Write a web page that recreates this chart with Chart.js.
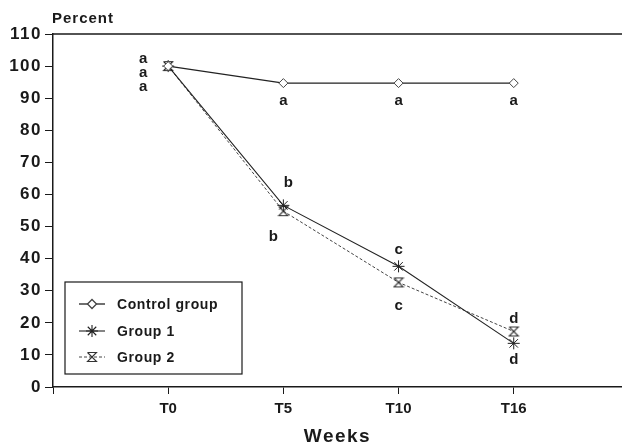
<!DOCTYPE html>
<html>
<head>
<meta charset="utf-8">
<script src="https://cdn.jsdelivr.net/npm/chart.js@4.4.1/dist/chart.umd.min.js"></script>
<style>
  html, body { margin: 0; padding: 0; background: #fff; }
  #wrap { width: 622px; height: 445px; position: relative; }
</style>
</head>
<body>
<div id="wrap"><canvas id="chart" width="622" height="445"></canvas></div>
<script>
// data
const weeks = ['T0', 'T5', 'T10', 'T16'];
const controlGroup = [100, 94.7, 94.7, 94.7];
const group1 = [100, 56.6, 37.6, 13.6];
const group2 = [100, 54.8, 32.6, 17.3];
const controlLetters = ['a', 'a', 'a', 'a'];
const group1Letters = ['a', 'b', 'c', 'd'];
const group2Letters = ['a', 'b', 'c', 'd'];
const seriesNames = ['Control group', 'Group 1', 'Group 2'];

const FONT = '"Liberation Sans", Arial, sans-serif';
const INK = '#1a1a1a';

// hourglass marker for group 2
function hourglass() {
  const c = document.createElement('canvas');
  c.width = 12; c.height = 12;
  const g = c.getContext('2d');
  g.strokeStyle = '#333';
  g.lineWidth = 1.1;
  g.beginPath();
  g.moveTo(1.5, 1.5); g.lineTo(10.5, 1.5);
  g.lineTo(1.5, 10.5); g.lineTo(10.5, 10.5);
  g.lineTo(1.5, 1.5);
  g.stroke();
  return c;
}
const hgMarker = hourglass();

const toPoints = (arr) => arr.map((v, i) => ({ x: i + 1, y: v }));

// letter offsets (px) relative to the point for each series
const letterOffsets = [
  [[-25, -7], [0, 18], [0, 18], [0, 18]],
  [[-25, 7], [5, -23], [0, -16], [0, 17]],
  [[-25, 21], [-10, 26], [0, 23], [0, -13]]
];

const decorPlugin = {
  id: 'decor',
  // wider tracking for the y labels and the axis title (drawn before datasets)
  beforeDraw(chart) {
    chart.ctx.letterSpacing = '1.5px';
  },
  beforeDatasetsDraw(chart) {
    chart.ctx.letterSpacing = '0px';
  },
  afterDraw(chart) {
    const ctx = chart.ctx;
    const a = chart.chartArea;
    const xs = chart.scales.x, ys = chart.scales.y;
    ctx.save();
    // top frame line
    ctx.strokeStyle = INK;
    ctx.lineWidth = 1.5;
    ctx.beginPath();
    ctx.moveTo(a.left, a.top);
    ctx.lineTo(chart.width, a.top);
    ctx.stroke();

    // axis caption
    ctx.fillStyle = INK;
    ctx.font = 'bold 15px ' + FONT;
    ctx.textAlign = 'left';
    ctx.textBaseline = 'middle';
    ctx.letterSpacing = '1px';
    ctx.fillText('Percent', a.left - 1, 19);
    ctx.letterSpacing = '0px';

    // significance letters
    ctx.font = 'bold 15px ' + FONT;
    ctx.textAlign = 'center';
    const letterSets = [controlLetters, group1Letters, group2Letters];
    const valueSets = [controlGroup, group1, group2];
    letterSets.forEach((letters, s) => {
      letters.forEach((t, i) => {
        const px = xs.getPixelForValue(i + 1) + letterOffsets[s][i][0];
        const py = ys.getPixelForValue(valueSets[s][i]) + letterOffsets[s][i][1];
        ctx.fillText(t, px, py);
      });
    });

    // legend box
    const bx = 65, by = 282, bw = 177, bh = 92;
    ctx.lineWidth = 1.2;
    ctx.strokeRect(bx, by, bw, bh);
    const rowY = [304, 331, 357];
    ctx.font = 'bold 14px ' + FONT;
    ctx.textAlign = 'left';
    chart.data.datasets.forEach((ds, i) => {
      const y = rowY[i];
      ctx.strokeStyle = ds.borderColor;
      ctx.lineWidth = ds.borderWidth;
      ctx.setLineDash(ds.borderDash || []);
      ctx.beginPath();
      ctx.moveTo(79, y);
      ctx.lineTo(105, y);
      ctx.stroke();
      ctx.setLineDash([]);
      ctx.fillStyle = '#fff';
      ctx.strokeStyle = ds.pointBorderColor || '#333';
      Chart.helpers.drawPoint(ctx, {
        pointStyle: ds.pointStyle,
        radius: ds.pointRadius,
        borderWidth: ds.pointBorderWidth || 1
      }, 92, y);
      ctx.fillStyle = INK;
      ctx.letterSpacing = '0.6px';
      ctx.fillText(seriesNames[i], 117, y + 1);
      ctx.letterSpacing = '0px';
    });
    ctx.restore();
  }
};

new Chart(document.getElementById('chart'), {
  type: 'line',
  data: {
    datasets: [
      {
        label: seriesNames[0],
        data: toPoints(controlGroup),
        borderColor: '#222',
        borderWidth: 1.3,
        pointStyle: 'rectRot',
        pointRadius: 4.5,
        pointBackgroundColor: '#fff',
        pointBorderColor: '#444',
        pointBorderWidth: 1
      },
      {
        label: seriesNames[1],
        data: toPoints(group1),
        borderColor: '#222',
        borderWidth: 1.1,
        pointStyle: 'star',
        pointRadius: 6,
        pointBorderColor: '#222',
        pointBorderWidth: 1
      },
      {
        label: seriesNames[2],
        data: toPoints(group2),
        borderColor: '#444',
        borderWidth: 1,
        borderDash: [3, 2],
        pointStyle: hgMarker,
        pointRadius: 6
      }
    ]
  },
  options: {
    responsive: false,
    animation: false,
    devicePixelRatio: 1,
    layout: { autoPadding: false, padding: { top: 34, right: 0, left: 0, bottom: 0 } },
    plugins: {
      legend: { display: false },
      tooltip: { enabled: false }
    },
    scales: {
      x: {
        type: 'linear',
        bounds: 'data',
        min: 0,
        max: 4.94,
        afterBuildTicks: (scale) => { scale.ticks = [0, 1, 2, 3, 4].map(v => ({ value: v })); },
        afterFit: (scale) => {
          scale.height = 58;
          scale.paddingRight = 0;
          scale.paddingLeft = 0;
        },
        grid: { drawOnChartArea: false, drawTicks: true, tickLength: 7, color: INK, lineWidth: 1 },
        border: { display: true, color: INK, width: 1.5 },
        ticks: {
          z: 1,
          padding: 6,
          color: INK,
          font: { family: FONT, size: 15, weight: 'bold' },
          callback: (v) => (v >= 1 && v <= weeks.length ? weeks[v - 1] : '')
        },
        title: {
          display: true,
          text: 'Weeks',
          color: INK,
          font: { family: FONT, size: 19, weight: 'bold' },
          padding: { top: 0, bottom: -3 }
        }
      },
      y: {
        min: 0,
        max: 110,
        afterFit: (scale) => { scale.width = 53; },
        grid: { drawOnChartArea: false, drawTicks: true, tickLength: 8, color: INK, lineWidth: 1 },
        border: { display: true, color: INK, width: 1.5 },
        ticks: {
          stepSize: 10,
          padding: 3,
          color: INK,
          font: { family: FONT, size: 17, weight: 'bold' }
        }
      }
    }
  },
  plugins: [decorPlugin]
});
</script>
</body>
</html>
